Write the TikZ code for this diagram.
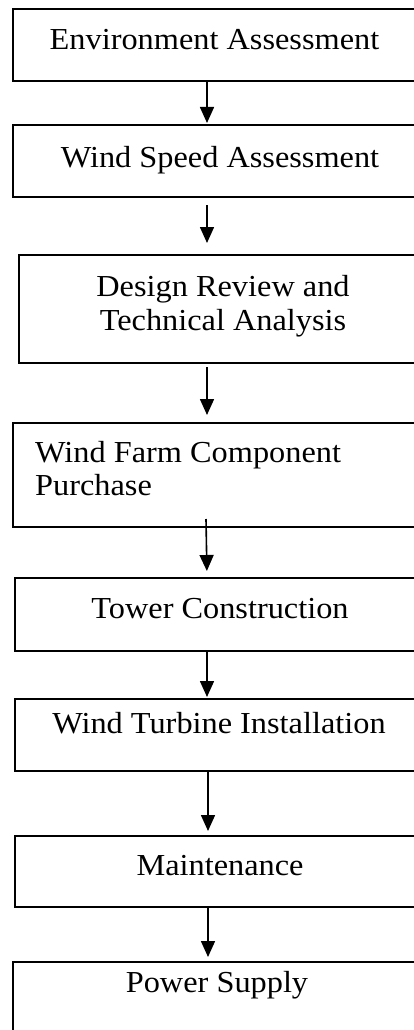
\documentclass[tikz,border=0pt]{standalone}
\usepackage{fontspec}
\setmainfont{Liberation Serif}[FakeStretch=1.06]
\usetikzlibrary{arrows.meta}
\begin{document}
\begin{tikzpicture}[x=1pt,y=-1pt,
  box/.style={draw=black, line width=1.3pt, fill=white, inner sep=0pt, outer sep=0pt, anchor=north west},
  lbl/.style={inner sep=0pt, anchor=base, font=\fontsize{30.5}{35}\selectfont},
  lbll/.style={inner sep=0pt, anchor=base west, font=\fontsize{30.5}{35}\selectfont},
  arr/.style={line width=1.6pt, -{Triangle[length=16pt,width=14pt]}}]
\useasboundingbox (0,0) rectangle (414,1030);
\clip (0,0) rectangle (414,1030);
\fill[white] (0,0) rectangle (414,1030);
% boxes
\node[box, minimum width=414pt, minimum height=72pt] (b1) at (13,9) {};
\node[box, minimum width=414pt, minimum height=72pt] (b2) at (13,125) {};
\node[box, minimum width=408pt, minimum height=108pt] (b3) at (19,255) {};
\node[box, minimum width=414pt, minimum height=104pt] (b4) at (13,423) {};
\node[box, minimum width=412pt, minimum height=73pt] (b5) at (15,578) {};
\node[box, minimum width=412pt, minimum height=72pt] (b6) at (15,699) {};
\node[box, minimum width=412pt, minimum height=71pt] (b7) at (15,836) {};
\node[box, minimum width=414pt, minimum height=90pt] (b8) at (13,962) {};
% labels
\node[lbl] (t1) at (214.5,50) {Environment Assessment};
\node[lbl] (t2) at (220,167) {Wind Speed Assessment};
\node[lbl] (t3a) at (223,296) {Design Review and};
\node[lbl] (t3b) at (223,330) {Technical Analysis};
\node[lbll] (t4a) at (35,462) {Wind Farm Component};
\node[lbll] (t4b) at (35,495) {Purchase};
\node[lbl] (t5) at (220,618) {Tower Construction};
\node[lbl] (t6) at (219,733) {Wind Turbine Installation};
\node[lbl] (t7) at (220,875) {Maintenance};
\node[lbl] (t8) at (217,992) {Power Supply};
% arrow columns
\coordinate (xa) at (207,0);
\coordinate (xc) at (208,0);
\coordinate (a4s) at (206,519);
% arrows
\draw[arr, shorten >=2pt] (b1.south -| xa) -- (b2.north -| xa);
\draw[arr, shorten <=8pt, shorten >=12pt] (b2.south -| xa) -- (b3.north -| xa);
\draw[arr, shorten <=4pt, shorten >=8pt] (b3.south -| xa) -- (b4.north -| xa);
\draw[arr, shorten >=7pt] (a4s) -- (b5.north -| xa);
\draw[arr, shorten >=2pt] (b5.south -| xa) -- (b6.north -| xa);
\draw[arr, shorten >=5pt] (b6.south -| xc) -- (b7.north -| xc);
\draw[arr, shorten >=5pt] (b7.south -| xc) -- (b8.north -| xc);
\end{tikzpicture}
\end{document}
